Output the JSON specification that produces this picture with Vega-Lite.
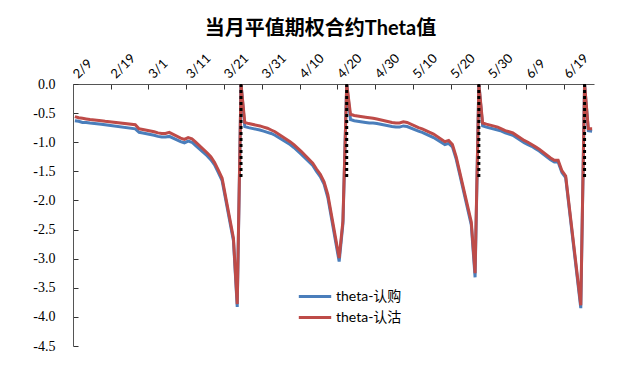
{
  "$schema": "https://vega.github.io/schema/vega-lite/v6.json",
  "autosize": "none",
  "width": 521,
  "height": 262,
  "padding": {"left": 73, "top": 84, "right": 46, "bottom": 19},
  "background": "white",
  "title": {
    "text": "当月平值期权合约Theta值",
    "anchor": "middle",
    "fontSize": 20,
    "font": "Lato, Noto Sans CJK SC",
    "fontWeight": "bold",
    "color": "#000000",
    "dx": -13,
    "offset": 13
  },
  "config": {"view": {"stroke": null}},
  "encoding": {
    "x": {
      "field": "date",
      "type": "temporal",
      "scale": {
        "type": "utc",
        "domain": [
          {"year": 2015, "month": 2, "date": 8, "hours": 12, "utc": true},
          {"year": 2015, "month": 6, "date": 26, "hours": 12, "utc": true}
        ]
      },
      "axis": {
        "orient": "top",
        "title": null,
        "values": [
          {"year": 2015, "month": 2, "date": 9, "utc": true},
          {"year": 2015, "month": 2, "date": 19, "utc": true},
          {"year": 2015, "month": 3, "date": 1, "utc": true},
          {"year": 2015, "month": 3, "date": 11, "utc": true},
          {"year": 2015, "month": 3, "date": 21, "utc": true},
          {"year": 2015, "month": 3, "date": 31, "utc": true},
          {"year": 2015, "month": 4, "date": 10, "utc": true},
          {"year": 2015, "month": 4, "date": 20, "utc": true},
          {"year": 2015, "month": 4, "date": 30, "utc": true},
          {"year": 2015, "month": 5, "date": 10, "utc": true},
          {"year": 2015, "month": 5, "date": 20, "utc": true},
          {"year": 2015, "month": 5, "date": 30, "utc": true},
          {"year": 2015, "month": 6, "date": 9, "utc": true},
          {"year": 2015, "month": 6, "date": 19, "utc": true}
        ],
        "labelExpr": "utcFormat(datum.value, '%-m/%-d')",
        "labelAngle": -45,
        "labelAlign": "left",
        "labelBaseline": "middle",
        "labelFont": "Lato",
        "labelFontSize": 13,
        "labelColor": "#000000",
        "labelPadding": 13,
        "labelOffset": 1.9,
        "tickOffset": -1.9,
        "tickSize": -5,
        "tickWidth": 1,
        "tickColor": "#333333",
        "domainColor": "#555555",
        "grid": false,
        "labelOverlap": false,
        "labelFlush": false
      }
    },
    "y": {
      "field": "theta",
      "type": "quantitative",
      "scale": {"domain": [-4.5, 0], "nice": false, "zero": false},
      "axis": {
        "title": null,
        "values": [0, -0.5, -1, -1.5, -2, -2.5, -3, -3.5, -4, -4.5],
        "labelExpr": "replace(format(datum.value, '.1f'), '−', '-')",
        "labelFont": "Liberation Serif",
        "labelFontSize": 14,
        "labelColor": "#000000",
        "labelPadding": 23,
        "labelOverlap": false,
        "labelFlush": false,
        "labelBound": false,
        "tickSize": -5,
        "tickWidth": 1,
        "tickColor": "#333333",
        "domainColor": "#555555",
        "grid": false
      }
    }
  },
  "layer": [
    {
      "data": {"values": [
        {"date":"2015-02-09","series":"theta-认购","theta":-0.63},
        {"date":"2015-02-10","series":"theta-认购","theta":-0.64},
        {"date":"2015-02-11","series":"theta-认购","theta":-0.66},
        {"date":"2015-02-12","series":"theta-认购","theta":-0.66},
        {"date":"2015-02-13","series":"theta-认购","theta":-0.67},
        {"date":"2015-02-16","series":"theta-认购","theta":-0.69},
        {"date":"2015-02-17","series":"theta-认购","theta":-0.70},
        {"date":"2015-02-25","series":"theta-认购","theta":-0.77},
        {"date":"2015-02-26","series":"theta-认购","theta":-0.83},
        {"date":"2015-02-27","series":"theta-认购","theta":-0.84},
        {"date":"2015-03-02","series":"theta-认购","theta":-0.88},
        {"date":"2015-03-03","series":"theta-认购","theta":-0.90},
        {"date":"2015-03-04","series":"theta-认购","theta":-0.91},
        {"date":"2015-03-05","series":"theta-认购","theta":-0.91},
        {"date":"2015-03-06","series":"theta-认购","theta":-0.90},
        {"date":"2015-03-09","series":"theta-认购","theta":-0.99},
        {"date":"2015-03-10","series":"theta-认购","theta":-1.01},
        {"date":"2015-03-11","series":"theta-认购","theta":-0.98},
        {"date":"2015-03-12","series":"theta-认购","theta":-1.00},
        {"date":"2015-03-13","series":"theta-认购","theta":-1.06},
        {"date":"2015-03-16","series":"theta-认购","theta":-1.23},
        {"date":"2015-03-17","series":"theta-认购","theta":-1.30},
        {"date":"2015-03-18","series":"theta-认购","theta":-1.39},
        {"date":"2015-03-19","series":"theta-认购","theta":-1.52},
        {"date":"2015-03-20","series":"theta-认购","theta":-1.66},
        {"date":"2015-03-23","series":"theta-认购","theta":-2.69},
        {"date":"2015-03-24","series":"theta-认购","theta":-3.83},
        {"date":"2015-03-25","series":"theta-认购","theta":0},
        {"date":"2015-03-26","series":"theta-认购","theta":-0.73},
        {"date":"2015-03-27","series":"theta-认购","theta":-0.75},
        {"date":"2015-03-30","series":"theta-认购","theta":-0.79},
        {"date":"2015-03-31","series":"theta-认购","theta":-0.81},
        {"date":"2015-04-01","series":"theta-认购","theta":-0.83},
        {"date":"2015-04-02","series":"theta-认购","theta":-0.85},
        {"date":"2015-04-03","series":"theta-认购","theta":-0.88},
        {"date":"2015-04-07","series":"theta-认购","theta":-1.04},
        {"date":"2015-04-08","series":"theta-认购","theta":-1.09},
        {"date":"2015-04-09","series":"theta-认购","theta":-1.15},
        {"date":"2015-04-10","series":"theta-认购","theta":-1.21},
        {"date":"2015-04-13","series":"theta-认购","theta":-1.40},
        {"date":"2015-04-14","series":"theta-认购","theta":-1.50},
        {"date":"2015-04-15","series":"theta-认购","theta":-1.59},
        {"date":"2015-04-16","series":"theta-认购","theta":-1.72},
        {"date":"2015-04-17","series":"theta-认购","theta":-1.95},
        {"date":"2015-04-20","series":"theta-认购","theta":-3.05},
        {"date":"2015-04-21","series":"theta-认购","theta":-2.40},
        {"date":"2015-04-22","series":"theta-认购","theta":0},
        {"date":"2015-04-23","series":"theta-认购","theta":-0.61},
        {"date":"2015-04-24","series":"theta-认购","theta":-0.63},
        {"date":"2015-04-27","series":"theta-认购","theta":-0.66},
        {"date":"2015-04-28","series":"theta-认购","theta":-0.67},
        {"date":"2015-04-29","series":"theta-认购","theta":-0.67},
        {"date":"2015-04-30","series":"theta-认购","theta":-0.68},
        {"date":"2015-05-04","series":"theta-认购","theta":-0.73},
        {"date":"2015-05-05","series":"theta-认购","theta":-0.74},
        {"date":"2015-05-06","series":"theta-认购","theta":-0.74},
        {"date":"2015-05-07","series":"theta-认购","theta":-0.72},
        {"date":"2015-05-08","series":"theta-认购","theta":-0.73},
        {"date":"2015-05-11","series":"theta-认购","theta":-0.81},
        {"date":"2015-05-12","series":"theta-认购","theta":-0.83},
        {"date":"2015-05-13","series":"theta-认购","theta":-0.86},
        {"date":"2015-05-14","series":"theta-认购","theta":-0.89},
        {"date":"2015-05-15","series":"theta-认购","theta":-0.92},
        {"date":"2015-05-18","series":"theta-认购","theta":-1.04},
        {"date":"2015-05-19","series":"theta-认购","theta":-1.02},
        {"date":"2015-05-20","series":"theta-认购","theta":-1.08},
        {"date":"2015-05-21","series":"theta-认购","theta":-1.29},
        {"date":"2015-05-22","series":"theta-认购","theta":-1.57},
        {"date":"2015-05-25","series":"theta-认购","theta":-2.42},
        {"date":"2015-05-26","series":"theta-认购","theta":-3.32},
        {"date":"2015-05-27","series":"theta-认购","theta":0},
        {"date":"2015-05-28","series":"theta-认购","theta":-0.72},
        {"date":"2015-05-29","series":"theta-认购","theta":-0.74},
        {"date":"2015-06-01","series":"theta-认购","theta":-0.79},
        {"date":"2015-06-02","series":"theta-认购","theta":-0.81},
        {"date":"2015-06-03","series":"theta-认购","theta":-0.84},
        {"date":"2015-06-04","series":"theta-认购","theta":-0.86},
        {"date":"2015-06-05","series":"theta-认购","theta":-0.88},
        {"date":"2015-06-08","series":"theta-认购","theta":-1.01},
        {"date":"2015-06-09","series":"theta-认购","theta":-1.04},
        {"date":"2015-06-10","series":"theta-认购","theta":-1.07},
        {"date":"2015-06-11","series":"theta-认购","theta":-1.11},
        {"date":"2015-06-12","series":"theta-认购","theta":-1.15},
        {"date":"2015-06-15","series":"theta-认购","theta":-1.30},
        {"date":"2015-06-16","series":"theta-认购","theta":-1.34},
        {"date":"2015-06-17","series":"theta-认购","theta":-1.34},
        {"date":"2015-06-18","series":"theta-认购","theta":-1.52},
        {"date":"2015-06-19","series":"theta-认购","theta":-1.61},
        {"date":"2015-06-23","series":"theta-认购","theta":-3.85},
        {"date":"2015-06-24","series":"theta-认购","theta":0},
        {"date":"2015-06-25","series":"theta-认购","theta":-0.80},
        {"date":"2015-06-26","series":"theta-认购","theta":-0.81},
        {"date":"2015-02-09","series":"theta-认沽","theta":-0.56},
        {"date":"2015-02-10","series":"theta-认沽","theta":-0.58},
        {"date":"2015-02-11","series":"theta-认沽","theta":-0.59},
        {"date":"2015-02-12","series":"theta-认沽","theta":-0.60},
        {"date":"2015-02-13","series":"theta-认沽","theta":-0.61},
        {"date":"2015-02-16","series":"theta-认沽","theta":-0.63},
        {"date":"2015-02-17","series":"theta-认沽","theta":-0.64},
        {"date":"2015-02-25","series":"theta-认沽","theta":-0.70},
        {"date":"2015-02-26","series":"theta-认沽","theta":-0.77},
        {"date":"2015-02-27","series":"theta-认沽","theta":-0.78},
        {"date":"2015-03-02","series":"theta-认沽","theta":-0.82},
        {"date":"2015-03-03","series":"theta-认沽","theta":-0.84},
        {"date":"2015-03-04","series":"theta-认沽","theta":-0.85},
        {"date":"2015-03-05","series":"theta-认沽","theta":-0.85},
        {"date":"2015-03-06","series":"theta-认沽","theta":-0.83},
        {"date":"2015-03-09","series":"theta-认沽","theta":-0.93},
        {"date":"2015-03-10","series":"theta-认沽","theta":-0.95},
        {"date":"2015-03-11","series":"theta-认沽","theta":-0.92},
        {"date":"2015-03-12","series":"theta-认沽","theta":-0.94},
        {"date":"2015-03-13","series":"theta-认沽","theta":-1.00},
        {"date":"2015-03-16","series":"theta-认沽","theta":-1.18},
        {"date":"2015-03-17","series":"theta-认沽","theta":-1.25},
        {"date":"2015-03-18","series":"theta-认沽","theta":-1.35},
        {"date":"2015-03-19","series":"theta-认沽","theta":-1.48},
        {"date":"2015-03-20","series":"theta-认沽","theta":-1.62},
        {"date":"2015-03-23","series":"theta-认沽","theta":-2.65},
        {"date":"2015-03-24","series":"theta-认沽","theta":-3.78},
        {"date":"2015-03-25","series":"theta-认沽","theta":0},
        {"date":"2015-03-26","series":"theta-认沽","theta":-0.66},
        {"date":"2015-03-27","series":"theta-认沽","theta":-0.68},
        {"date":"2015-03-30","series":"theta-认沽","theta":-0.72},
        {"date":"2015-03-31","series":"theta-认沽","theta":-0.74},
        {"date":"2015-04-01","series":"theta-认沽","theta":-0.76},
        {"date":"2015-04-02","series":"theta-认沽","theta":-0.79},
        {"date":"2015-04-03","series":"theta-认沽","theta":-0.82},
        {"date":"2015-04-07","series":"theta-认沽","theta":-0.99},
        {"date":"2015-04-08","series":"theta-认沽","theta":-1.04},
        {"date":"2015-04-09","series":"theta-认沽","theta":-1.10},
        {"date":"2015-04-10","series":"theta-认沽","theta":-1.16},
        {"date":"2015-04-13","series":"theta-认沽","theta":-1.36},
        {"date":"2015-04-14","series":"theta-认沽","theta":-1.46},
        {"date":"2015-04-15","series":"theta-认沽","theta":-1.55},
        {"date":"2015-04-16","series":"theta-认沽","theta":-1.68},
        {"date":"2015-04-17","series":"theta-认沽","theta":-1.90},
        {"date":"2015-04-20","series":"theta-认沽","theta":-2.99},
        {"date":"2015-04-21","series":"theta-认沽","theta":-2.35},
        {"date":"2015-04-22","series":"theta-认沽","theta":0},
        {"date":"2015-04-23","series":"theta-认沽","theta":-0.52},
        {"date":"2015-04-24","series":"theta-认沽","theta":-0.54},
        {"date":"2015-04-27","series":"theta-认沽","theta":-0.57},
        {"date":"2015-04-28","series":"theta-认沽","theta":-0.58},
        {"date":"2015-04-29","series":"theta-认沽","theta":-0.59},
        {"date":"2015-04-30","series":"theta-认沽","theta":-0.60},
        {"date":"2015-05-04","series":"theta-认沽","theta":-0.66},
        {"date":"2015-05-05","series":"theta-认沽","theta":-0.67},
        {"date":"2015-05-06","series":"theta-认沽","theta":-0.67},
        {"date":"2015-05-07","series":"theta-认沽","theta":-0.65},
        {"date":"2015-05-08","series":"theta-认沽","theta":-0.66},
        {"date":"2015-05-11","series":"theta-认沽","theta":-0.75},
        {"date":"2015-05-12","series":"theta-认沽","theta":-0.77},
        {"date":"2015-05-13","series":"theta-认沽","theta":-0.80},
        {"date":"2015-05-14","series":"theta-认沽","theta":-0.83},
        {"date":"2015-05-15","series":"theta-认沽","theta":-0.86},
        {"date":"2015-05-18","series":"theta-认沽","theta":-0.99},
        {"date":"2015-05-19","series":"theta-认沽","theta":-0.97},
        {"date":"2015-05-20","series":"theta-认沽","theta":-1.04},
        {"date":"2015-05-21","series":"theta-认沽","theta":-1.25},
        {"date":"2015-05-22","series":"theta-认沽","theta":-1.53},
        {"date":"2015-05-25","series":"theta-认沽","theta":-2.37},
        {"date":"2015-05-26","series":"theta-认沽","theta":-3.25},
        {"date":"2015-05-27","series":"theta-认沽","theta":0},
        {"date":"2015-05-28","series":"theta-认沽","theta":-0.67},
        {"date":"2015-05-29","series":"theta-认沽","theta":-0.69},
        {"date":"2015-06-01","series":"theta-认沽","theta":-0.74},
        {"date":"2015-06-02","series":"theta-认沽","theta":-0.77},
        {"date":"2015-06-03","series":"theta-认沽","theta":-0.80},
        {"date":"2015-06-04","series":"theta-认沽","theta":-0.82},
        {"date":"2015-06-05","series":"theta-认沽","theta":-0.84},
        {"date":"2015-06-08","series":"theta-认沽","theta":-0.97},
        {"date":"2015-06-09","series":"theta-认沽","theta":-1.00},
        {"date":"2015-06-10","series":"theta-认沽","theta":-1.04},
        {"date":"2015-06-11","series":"theta-认沽","theta":-1.08},
        {"date":"2015-06-12","series":"theta-认沽","theta":-1.12},
        {"date":"2015-06-15","series":"theta-认沽","theta":-1.27},
        {"date":"2015-06-16","series":"theta-认沽","theta":-1.31},
        {"date":"2015-06-17","series":"theta-认沽","theta":-1.31},
        {"date":"2015-06-18","series":"theta-认沽","theta":-1.49},
        {"date":"2015-06-19","series":"theta-认沽","theta":-1.58},
        {"date":"2015-06-23","series":"theta-认沽","theta":-3.80},
        {"date":"2015-06-24","series":"theta-认沽","theta":0},
        {"date":"2015-06-25","series":"theta-认沽","theta":-0.77},
        {"date":"2015-06-26","series":"theta-认沽","theta":-0.77}
      ]},
      "mark": {"type": "line", "strokeWidth": 3, "clip": true},
      "encoding": {
        "color": {
          "field": "series",
          "type": "nominal",
          "scale": {"domain": ["theta-认购", "theta-认沽"], "range": ["#4a7ebb", "#be4b48"]},
          "legend": {
            "orient": "none",
            "legendX": 224,
            "legendY": 202,
            "title": null,
            "symbolType": "stroke",
            "symbolSize": 1050,
            "symbolStrokeWidth": 3,
            "clipHeight": 21,
            "labelFont": "Lato, Noto Sans CJK SC",
            "labelFontSize": 14,
            "labelColor": "#000000",
            "padding": 0,
            "rowPadding": 0,
            "labelOffset": 3
          }
        }
      }
    },
    {
      "data": {"values": [
        {"date": "2015-03-25", "theta": 0, "bottom": -1.65},
        {"date": "2015-04-22", "theta": 0, "bottom": -1.65},
        {"date": "2015-05-27", "theta": 0, "bottom": -1.65},
        {"date": "2015-06-24", "theta": 0, "bottom": -1.65}
      ]},
      "mark": {"type": "rule", "color": "#000000", "strokeWidth": 3, "strokeDash": [3, 3]},
      "encoding": {
        "y2": {"field": "bottom"}
      }
    }
  ]
}
